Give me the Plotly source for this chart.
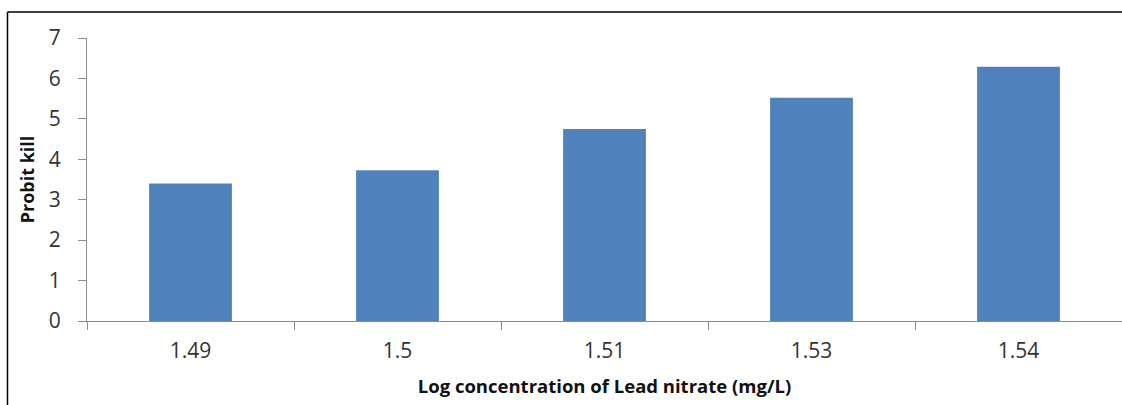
import plotly.graph_objects as go

categories = ["1.49", "1.5", "1.51", "1.53", "1.54"]
probit_kill = [3.40, 3.73, 4.75, 5.52, 6.29]
y_ticks = [0, 1, 2, 3, 4, 5, 6, 7]

W, H = 1122, 405
L, R, T, B = 87, 0, 38, 84
pw, ph = W - L - R, H - T - B

def px_to_paper_x(px):
    return (px - L) / pw

def px_to_paper_y(py):
    return (H - B - py) / ph

fig = go.Figure(go.Bar(x=categories, y=probit_kill, marker_color="#4F81BD",
                       marker_line_width=0))

fig.update_layout(
    width=W, height=H,
    margin=dict(l=L, r=R, t=T, b=B, pad=0),
    paper_bgcolor="white", plot_bgcolor="white",
    bargap=0.6, showlegend=False,
    font=dict(family="Open Sans, sans-serif", color="#222"),
    shapes=[
        dict(type="line", xref="paper", yref="paper",
             x0=px_to_paper_x(7.5), x1=px_to_paper_x(7.5),
             y0=px_to_paper_y(12), y1=px_to_paper_y(H + 5),
             line=dict(color="black", width=1.5)),
        dict(type="line", xref="paper", yref="paper",
             x0=px_to_paper_x(7.5), x1=px_to_paper_x(W + 5),
             y0=px_to_paper_y(12), y1=px_to_paper_y(12),
             line=dict(color="black", width=1.5)),
    ],
)

fig.update_xaxes(
    type="category", showgrid=False, showline=True, linecolor="#8c8c8c", linewidth=1,
    ticks="outside", tickson="boundaries", ticklen=8, tickcolor="#8c8c8c",
    tickfont=dict(size=21, color="#333"), ticklabelstandoff=11,
    title=dict(text="<b>Log concentration of Lead nitrate (mg/L)</b>",
               font=dict(size=18.5, color="#111"), standoff=16),
)
fig.update_yaxes(
    range=[0, 7], tickvals=y_ticks, showgrid=False, showline=True,
    linecolor="#8c8c8c", linewidth=1, ticks="outside", ticklen=8, tickcolor="#8c8c8c",
    tickfont=dict(size=21, color="#333"), ticklabelstandoff=13, zeroline=False,
    title=dict(text="<b>Probit kill</b>", font=dict(size=18, color="#111"), standoff=9),
)

fig.write_html("out.html")
